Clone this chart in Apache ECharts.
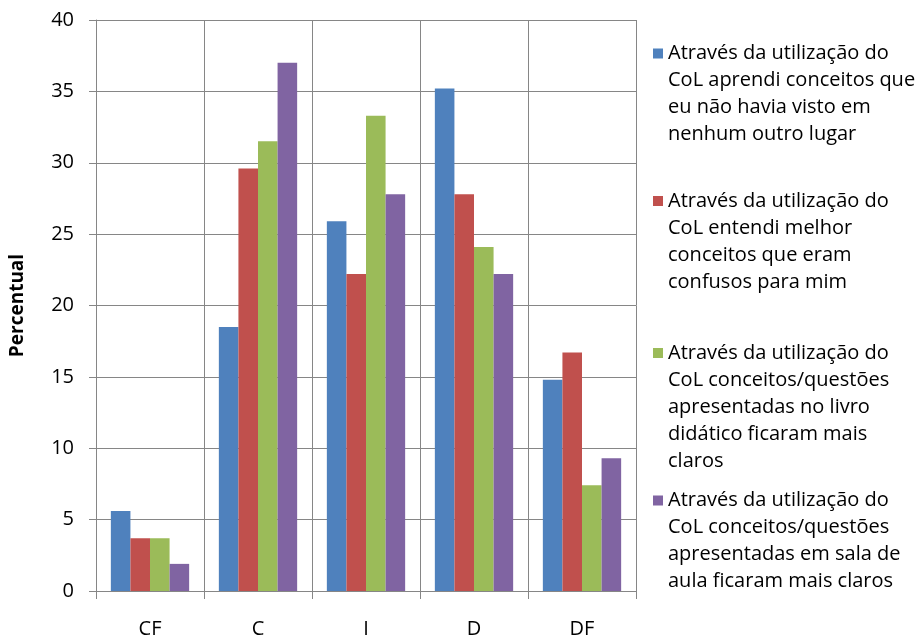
<!DOCTYPE html>
<html>
<head>
<meta charset="utf-8">
<script src="https://cdn.jsdelivr.net/npm/echarts@6/dist/echarts.min.js"></script>
<style>
html,body{margin:0;padding:0;background:#fff;}
#chart{width:916px;height:639px;}
</style>
</head>
<body>
<div id="chart"></div>
<script>
const categories = ['CF', 'C', 'I', 'D', 'DF'];
const seriesNames = [
  'Através da utilização do\nCoL aprendi conceitos que\neu não havia visto em\nnenhum outro lugar',
  'Através da utilização do\nCoL entendi melhor\nconceitos que eram\nconfusos para mim',
  'Através da utilização do\nCoL conceitos/questões\napresentadas no livro\ndidático ficaram mais\nclaros',
  'Através da utilização do\nCoL conceitos/questões\napresentadas em sala de\naula ficaram mais claros'
];
const aprendi = [5.6, 18.5, 25.9, 35.2, 14.8];
const entendi = [3.7, 29.6, 22.2, 27.8, 16.7];
const livro = [3.7, 31.5, 33.3, 24.1, 7.4];
const sala = [1.9, 37.0, 27.8, 22.2, 9.3];
const seriesValues = [aprendi, entendi, livro, sala];
const colors = ['#4F81BD', '#C0504D', '#9BBB59', '#8064A2'];
const yAxisName = 'Percentual';

const FONT = 'Open Sans';
const FS = 20;
const LH = 27;
const legendFirstLineCenters = [48.5, 196, 348, 495.5];

const chart = echarts.init(document.getElementById('chart'), null, {renderer: 'canvas'});

const legends = seriesNames.map((name, i) => {
  const n = name.split('\n').length;
  const H = (n - 1) * LH + 10;
  return {
    orient: 'vertical',
    left: 648,
    top: legendFirstLineCenters[i] - 13.5,
    itemWidth: 10,
    itemHeight: H,
    icon: 'path://M0,0L10,0L10,10L0,10Z M0,' + H + 'L0.01,' + H,
    data: [name],
    selectedMode: false,
    textStyle: {
      fontFamily: FONT,
      fontSize: FS,
      lineHeight: LH,
      color: '#000'
    }
  };
});

const option = {
  animation: false,
  backgroundColor: '#fff',
  color: colors,
  textStyle: {fontFamily: FONT},
  grid: {left: 95, top: 20, right: 280, bottom: 43, containLabel: false},
  legend: legends,
  xAxis: {
    type: 'category',
    data: categories,
    boundaryGap: true,
    axisLine: {show: true, lineStyle: {color: '#868686', width: 1}},
    axisTick: {show: true, length: 8, lineStyle: {color: '#868686'}},
    splitLine: {show: true, lineStyle: {color: '#868686', width: 1}},
    axisLabel: {fontFamily: FONT, fontSize: FS, color: '#000', margin: 28}
  },
  yAxis: {
    type: 'value',
    min: 0,
    max: 40,
    interval: 5,
    name: yAxisName,
    nameLocation: 'middle',
    nameRotate: 90,
    nameGap: 69,
    nameTextStyle: {fontFamily: FONT, fontSize: FS - 1, fontWeight: 'bold', color: '#000'},
    axisLine: {show: true, lineStyle: {color: '#868686', width: 1}},
    axisTick: {show: true, length: 7, lineStyle: {color: '#868686'}},
    splitLine: {show: true, lineStyle: {color: '#868686', width: 1}},
    axisLabel: {fontFamily: FONT, fontSize: FS, color: '#000', margin: 22}
  },
  series: seriesNames.map((name, i) => ({
    name: name,
    type: 'bar',
    data: seriesValues[i],
    barGap: '0%',
    barCategoryGap: '27.5%',
    itemStyle: {color: colors[i]}
  }))
};
chart.setOption(option);
</script>
</body>
</html>
